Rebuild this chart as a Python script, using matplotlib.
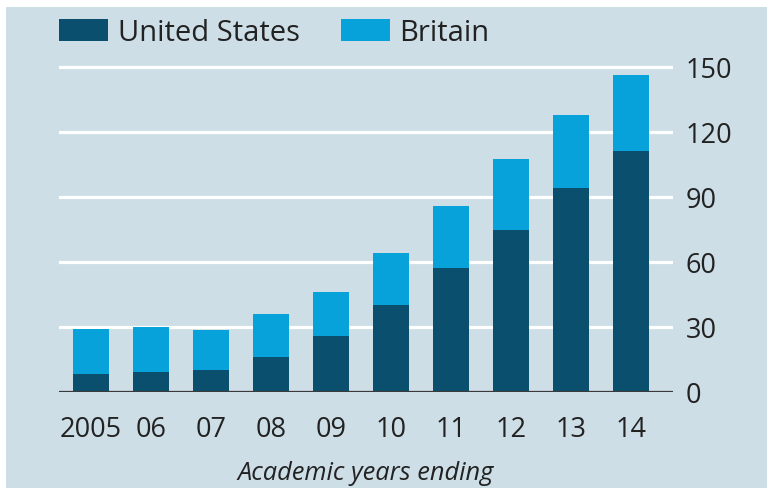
import matplotlib
matplotlib.use("Agg")
import matplotlib.pyplot as plt
from matplotlib.patches import Rectangle, Patch

# Data (thousands, stacked)
years = ["2005", "06", "07", "08", "09", "10", "11", "12", "13", "14"]
united_states = [8.0, 8.9, 10.0, 16.0, 25.7, 39.8, 57.0, 74.8, 93.9, 111.0]
britain_total = [28.9, 29.7, 28.5, 35.8, 46.2, 63.9, 85.8, 107.4, 127.8, 146.4]
britain = [t - u for t, u in zip(britain_total, united_states)]
yticks = [0, 30, 60, 90, 120, 150]
xlabel = "Academic years ending"

BG = "#cddee6"
DARK = "#0a4f6d"
LIGHT = "#06a2d9"
TEXT = "#222222"
FONT = "Open Sans"

W, H = 767, 489
fig = plt.figure(figsize=(W / 100, H / 100), dpi=100, facecolor="white")

# panel background with a thin white margin at top and left
fig.patches.append(Rectangle((6 / W, 0), 1 - 6 / W, 1 - 8 / H,
                             transform=fig.transFigure, facecolor=BG,
                             edgecolor="none", zorder=-10))

# axes placement in pixels
x0, x1 = 59, 673
y_zero = 392.7
px_per_unit = 65 / 30
ymax = 155
y_top = y_zero - ymax * px_per_unit
ax = fig.add_axes([x0 / W, 1 - y_zero / H, (x1 - x0) / W, (y_zero - y_top) / H])
ax.set_facecolor("none")

pos = list(range(len(years)))
ax.bar(pos, united_states, width=0.6, color=DARK, zorder=3)
ax.bar(pos, britain, width=0.6, bottom=united_states, color=LIGHT, zorder=3)

ax.set_xlim(-0.533, 9.7)
ax.set_ylim(0, ymax)

for v in yticks[1:]:
    ax.axhline(v, color="white", lw=2.3, zorder=1)
ax.axhline(0, color="#3a3a3a", lw=1.6, zorder=4)

for s in ax.spines.values():
    s.set_visible(False)

ax.yaxis.tick_right()
ax.set_yticks(yticks)
ax.set_yticklabels([str(v) for v in yticks])
ax.tick_params(axis="y", length=0, pad=9, labelsize=19.5, labelcolor=TEXT)
ax.set_xticks(pos)
ax.set_xticklabels(years)
ax.tick_params(axis="x", length=0, pad=17, labelsize=19.5, labelcolor=TEXT)
for lab in ax.get_xticklabels() + ax.get_yticklabels():
    lab.set_fontfamily(FONT)

ax.set_xlabel(xlabel, fontsize=18.3, style="italic", color=TEXT,
              fontfamily=FONT, labelpad=12)

handles = [Patch(facecolor=DARK, edgecolor="none", label="United States"),
           Patch(facecolor=LIGHT, edgecolor="none", label="Britain")]
fig.legend(handles=handles, loc="upper left",
           bbox_to_anchor=(x0 / W, 1 - 19 / H), ncol=2, frameon=False,
           prop={"family": FONT, "size": 21}, handlelength=1.68,
           handleheight=0.79, handletextpad=0.34, columnspacing=1.4,
           borderpad=0, borderaxespad=0, labelcolor=TEXT)

fig.savefig("out.png", dpi=100, facecolor="white")
